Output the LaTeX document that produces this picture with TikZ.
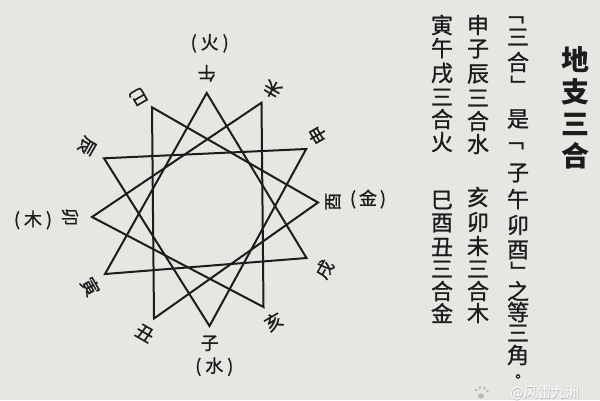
\documentclass[tikz,border=0pt]{standalone}
\usepackage{fontspec}
\newfontfamily\cjk{Noto Sans CJK TC}
\newfontfamily\cjkm{Noto Sans CJK TC}[FakeBold=1.1]
\definecolor{paper}{HTML}{E6E6E3}
\definecolor{ink}{HTML}{1C1C1C}
\tikzset{
  starline/.style={draw=ink, line width=2pt, line join=miter},
  branch/.style={font=\cjkm\fontsize{18}{18}\selectfont, text=ink, inner sep=0pt},
  elem/.style={font=\cjkm\fontsize{18}{18}\selectfont, text=ink, inner sep=0pt},
  colchar/.style={font=\cjkm\fontsize{22}{22}\selectfont, text=ink, inner sep=0pt},
  vbracket/.style={colchar, rotate=-90},
  stopmark/.style={font=\cjkm\fontsize{14}{14}\selectfont, text=ink, inner sep=0pt},
  titlechar/.style={font=\cjk\bfseries\fontsize{28}{28}\selectfont, text=ink, inner sep=0pt},
  wmark/.style={font=\cjk\fontsize{14}{14}\selectfont, text=white, inner sep=0pt}
}
\begin{document}
\begin{tikzpicture}[x=1pt,y=-1pt]
\useasboundingbox (0,0) rectangle (600,400);
\clip (0,0) rectangle (600,400);
\fill[paper] (0,0) rectangle (600,400);

% star vertices
\coordinate (wu)   at (206.7,93);
\coordinate (wei)  at (261.5,102.7);
\coordinate (shen) at (306.2,149);
\coordinate (you)  at (318,202.5);
\coordinate (xu)   at (306.5,258);
\coordinate (hai)  at (263.5,307);
\coordinate (zi)   at (209.5,326);
\coordinate (chou) at (154,318.5);
\coordinate (yin)  at (105,274);
\coordinate (mao)  at (92,217);
\coordinate (chen) at (104,158.3);
\coordinate (si)   at (152,107.3);

% four triangles
\draw[starline] (shen) -- (zi) -- (chen) -- cycle;
\draw[starline] (hai) -- (mao) -- (wei) -- cycle;
\draw[starline] (yin) -- (wu) -- (xu) -- cycle;
\draw[starline] (si) -- (you) -- (chou) -- cycle;

% branch labels, tops toward the centre
\node[branch, rotate=180] (lwu)   at (206.7,73.3) {午};
\node[branch, rotate=150] (lwei)  at (272.5,89.3) {未};
\node[branch, rotate=120] (lshen) at (317.6,135) {申};
\node[branch, rotate=90]  (lyou)  at (333,201.7) {酉};
\node[branch, rotate=60]  (lxu)   at (324.5,269.3) {戌};
\node[branch, rotate=30]  (lhai)  at (273.6,321.7) {亥};
\node[branch, rotate=0]   (lzi)   at (209.7,343.3) {子};
\node[branch, rotate=-30] (lchou) at (144.7,333.3) {丑};
\node[branch, rotate=-60] (lyin)  at (90.3,286.7) {寅};
\node[branch, rotate=270] (lmao)  at (70,217) {卯};
\node[branch, rotate=240] (lchen) at (87,146) {辰};
\node[branch, rotate=210] (lsi)   at (138.5,96.7) {巳};

% element labels
\node[elem] (efire)  at (209.7,43.3) {(\hspace{4pt}火\hspace{4pt})};
\node[elem] (ewater) at (214.3,366.7) {(\hspace{4pt}水\hspace{4pt})};
\node[elem] (ewood)  at (33,220) {(\hspace{4pt}木\hspace{4pt})};
\node[elem] (emetal) at (368,199) {(\hspace{3pt}金\hspace{3pt})};

% title column
\foreach \c/\y [count=\i] in {地/60, 支/92, 三/124, 合/156}
  \node[titlechar] (t\i) at (575,\y) {\c};

% column 2 (brackets turned for vertical setting)
\node[vbracket] (a1)  at (514,13) {「};
\node[vbracket] (a4)  at (518,86) {」};
\node[vbracket] (a6)  at (514,139) {「};
\node[vbracket] (a11) at (518,272) {」};
\foreach \c/\y/\i in {三/37/2, 合/62/3, 是/119/5, 子/173/7, 午/199/8, 卯/225/9, 酉/250/10, 之/291/12, 等/312/13, 三/333/14, 角/355/15}
  \node[colchar] (a\i) at (518,\y) {\c};
\node[stopmark] (a16) at (518,378) {。};

% column 3
\foreach \c/\y [count=\i] in {申/25, 子/49, 辰/74, 三/98, 合/121, 水/144, 亥/197, 卯/222, 未/246, 三/269, 合/291, 木/313}
  \node[colchar] (b\i) at (478,\y) {\c};

% column 4
\foreach \c/\y [count=\i] in {寅/25, 午/48, 戌/73, 三/97, 合/119, 火/142, 巳/200, 酉/223, 丑/247, 三/269, 合/291, 金/313}
  \node[colchar] (d\i) at (442,\y) {\c};

% watermark
\begin{scope}[gray!55]
  \fill (481,396) ellipse (3.2pt and 2.6pt);
  \fill (476,390) circle (1.5pt);
  \fill (480,387.5) circle (1.5pt);
  \fill (484.5,388) circle (1.5pt);
  \fill (487.5,391) circle (1.5pt);
\end{scope}
\node[wmark, text=gray!60] (wm0) at (545.6,393.6) {@风雷九洲};
\node[wmark] (wm) at (545,393) {@风雷九洲};
\end{tikzpicture}
\end{document}
